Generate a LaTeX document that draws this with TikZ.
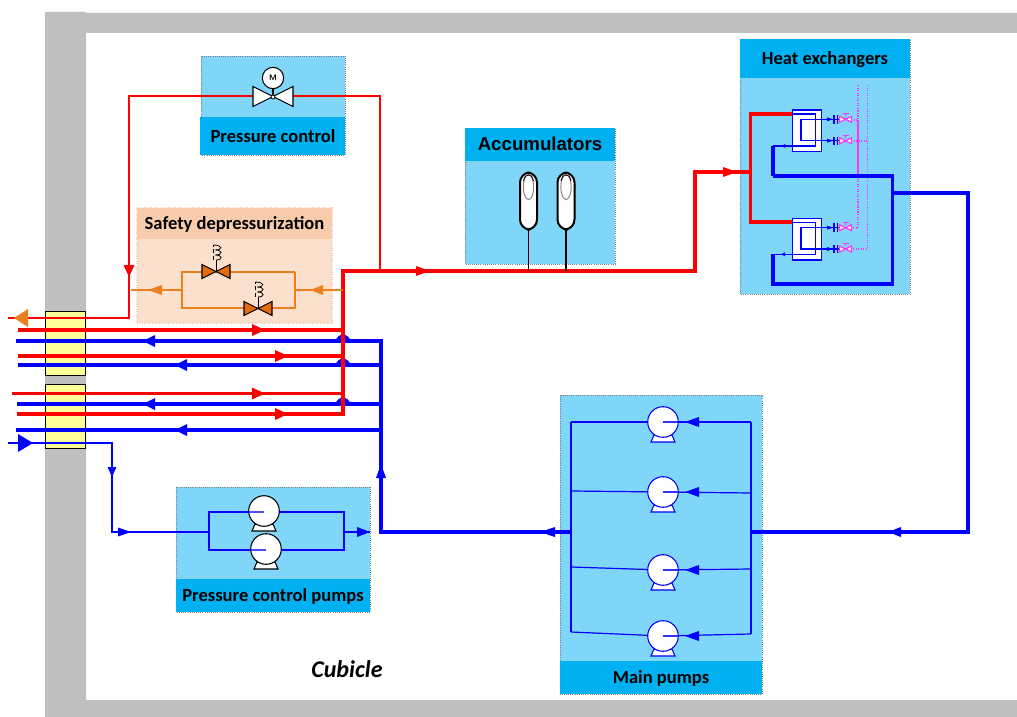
\documentclass[tikz,border=0pt]{standalone}
\usepackage{fontspec}
\setmainfont{Carlito}
\newfontfamily\arialbf{Liberation Sans}[BoldFont=Liberation Sans Bold]
\definecolor{wallc}{HTML}{BFBFBF}
\definecolor{bodyc}{HTML}{7FD6F9}
\definecolor{headc}{HTML}{00B0F0}
\definecolor{sbody}{HTML}{FBE1CD}
\definecolor{shead}{HTML}{F8CBAD}
\definecolor{orng}{HTML}{EE7F1E}
\definecolor{vorng}{HTML}{E36C0A}
\definecolor{yell}{HTML}{FFFF99}
\definecolor{magn}{HTML}{FF33FF}
\definecolor{blu}{HTML}{0000FF}
\definecolor{rd}{HTML}{FF0000}
\newcommand{\tipw}[6][blu]{\fill[#1,shift={(#2,#3)},rotate=#4] (0,0) -- (-#5,-#6) -- (-#5,#6) -- cycle;}
\tikzset{
  x=0.75pt,y=-0.75pt,
  bodybox/.style={fill=bodyc,draw=gray,densely dotted,line width=.6pt},
  headbox/.style={fill=headc,draw=none},
  lab/.style={font=\fontsize{13.9pt}{15pt}\selectfont\bfseries,text=black,inner sep=0pt},
  redthick/.style={draw=rd,line width=2.6pt},
  redthin/.style={draw=rd,line width=1pt},
  bluthick/.style={draw=blu,line width=2.6pt},
  bluthin/.style={draw=blu,line width=.9pt},
  hxl/.style={draw=blu,line width=.9pt},
  orl/.style={draw=orng,line width=1pt},
  magdot/.style={draw=magn,line width=.9pt,densely dotted},
  pics/bowtie/.style n args={4}{code={
    \filldraw[fill=#3,draw=#4,line width=.8pt] (0,0) -- (-#1,-#2) -- (-#1,#2) -- cycle;
    \filldraw[fill=#3,draw=#4,line width=.8pt] (0,0) -- (#1,-#2) -- (#1,#2) -- cycle;
  }},
  pics/spring/.style={code={
    \draw[black,line width=.7pt] (0,0) -- (0,-11);
    \draw[black,line width=.5pt,densely dashed] (-3,-11) -- (-3,-26);
    \draw[black,line width=.6pt] (-3,-26) .. controls (7,-26) and (7,-21) .. (-1,-21)
       .. controls (7,-21) and (7,-16) .. (-1,-16) .. controls (7,-16) and (7,-11) .. (0,-11);
  }},
  pics/pump/.style={code={
    \filldraw[fill=white,draw=#1,line width=.8pt] (-9,13) -- (-12,20) -- (12,20) -- (9,13) -- cycle;
    \filldraw[fill=white,draw=#1,line width=.8pt] (0,0) circle (15.3);
  }},
  pics/accu/.style={code={
    \filldraw[fill=white,draw=black,line width=1.5pt,rounded corners=7.5pt] (-8.5,-28.5) rectangle (8.5,28.5);
    \draw[gray,line width=.7pt] (0,-14) ellipse (5.2 and 12.5);
    \draw[black,line width=.6pt] (-5,-20) .. controls (-4,-25) and (-2,-26) .. (0,-26) .. controls (2,-26) and (4,-25) .. (5,-20);
  }},
  pics/hxvalve/.style={code={
    \tipw[blu]{-6.5}{0}{0}{6}{2}
    \fill[blu] (-6.2,-4.2) rectangle (-4.4,4.2);
    \fill[blu] (-3,-4.2) rectangle (-1.2,4.2);
    \draw[draw=magn,line width=.9pt] (6,-3) -- (6,-5.5) (3,-5.5) -- (9,-5.5);
    \filldraw[fill=white,draw=magn,line width=.9pt] (6,0) -- (0,-3) -- (0,3) -- cycle;
    \filldraw[fill=white,draw=magn,line width=.9pt] (6,0) -- (12,-3) -- (12,3) -- cycle;
  }},
}
\begin{document}
\begin{tikzpicture}
\useasboundingbox (0,0) rectangle (1017,717);
\fill[white] (0,0) rectangle (1017,717);
% wall
\fill[wallc] (45,12) -- (86,12) -- (86,13) -- (1017,13) -- (1017,33) -- (86,33) -- (86,700) -- (1017,700) -- (1017,717) -- (45,717) -- cycle;
% panels
\filldraw[bodybox] (201,56) rectangle (345,155);
\fill[headbox] (200,117) rectangle (345,155);
\node[lab] (pctxt) at (273,136.5) {Pressure control};
\fill[sbody] (137,208) rectangle (332,323);
\draw[draw=shead,densely dotted,line width=.8pt] (137,208) rectangle (332,323);
\fill[shead] (137,208) rectangle (332,239);
\node[lab] (sdtxt) at (234.5,224) {Safety depressurization};
\filldraw[bodybox] (465,128) rectangle (615,264);
\fill[headbox] (465,128) rectangle (615,161);
\node[lab,font=\arialbf\fontsize{14pt}{16pt}\selectfont\bfseries] (actxt) at (540,144) {Accumulators};
\filldraw[bodybox] (740,39) rectangle (910,294);
\fill[headbox] (740,39) rectangle (910,78);
\node[lab] (hetxt) at (825,59.5) {Heat exchangers};
\filldraw[bodybox] (176,487) rectangle (370,612);
\fill[headbox] (176,579) rectangle (370,612);
\node[lab] (pptxt) at (273,596.5) {Pressure control pumps};
\filldraw[bodybox] (560,395) rectangle (762,694);
\fill[headbox] (560,661) rectangle (762,694);
\node[lab] (mptxt) at (661,678) {Main pumps};
\node[font=\fontsize{18pt}{20pt}\selectfont\bfseries\itshape,inner sep=0pt] (cub) at (347,669.5) {Cubicle};
% penetrations
\node[draw=black,fill=yell,line width=.8pt,minimum width=30.5pt,minimum height=48.5pt,inner sep=0pt] (pen1) at (65.5,343.5) {};
\node[draw=black,fill=yell,line width=.8pt,minimum width=30.5pt,minimum height=48.5pt,inner sep=0pt] (pen2) at (65.5,416.5) {};
% coordinates
\coordinate (rA) at (343,271);
\coordinate (rB) at (695,271);
\coordinate (rC) at (695,172);
\coordinate (rD) at (750.5,172);
\coordinate (bV) at (381,341);
\coordinate (bM) at (381,532);
% blue manifold
\foreach \xs/\yy in {16/341,18/365,17/404,16/430}{
  \coordinate (bs) at (\xs,\yy);
  \draw[bluthick] (bs) -- (bs -| bV);
}
\foreach \yy in {341,365,404}{
  \fill[blu] (335,\yy+1.5) .. controls (337,\yy-9) and (349,\yy-9) .. (351,\yy+1.5) -- cycle;
}
\draw[bluthick,line cap=rect] (bV) -- (bM);
\tipw{143}{341}{180}{12}{6}
\tipw{175}{365}{180}{12}{6}
\tipw{143}{404}{180}{12}{6}
\tipw{175}{430}{180}{12}{6}
\tipw{381}{464}{90}{14}{5}
% red manifold
\foreach \xs/\yy in {18/330,18/356,12/393.5,17/414}{
  \coordinate (rs) at (\xs,\yy);
  \draw[redthick] (rs) -- (rs -| rA);
}
\draw[redthick,line cap=rect] (rA) -- (343,414);
\tipw[rd]{265}{330}{0}{13}{6}
\tipw[rd]{288}{356}{0}{13}{6}
\tipw[rd]{265}{393.5}{0}{13}{6}
\tipw[rd]{288}{414}{0}{13}{6}
\draw[redthick,line join=miter] (rA) -- (rB) -- (rC) -- (rD);
\tipw[rd]{430}{271}{0}{14}{5}
\tipw[rd]{737}{172}{0}{14}{5}
% pressure control line
\coordinate (pvL) at (129,96);
\coordinate (pvR) at (380,96);
\coordinate (pout) at (8,318);
\draw[redthin] (pout) -- (129,318) -- (pvL) -- (pvR) -- (380,271);
\tipw[rd]{129}{277}{-90}{12}{5.5}
\pic at (273,96.5) {bowtie={20}{10}{white}{black}};
\node[draw=black,fill=white,circle,minimum size=16pt,inner sep=0pt,line width=.8pt,font=\fontsize{6pt}{7pt}\selectfont\bfseries\sffamily] (motor) at (273,78) {M};
\draw[black,line width=.8pt] (motor) -- (273,96);
\filldraw[fill=white,draw=black,line width=.6pt] (273,97) circle (2);
\tipw[orng]{14}{318}{180}{14}{9}
% safety branch
\coordinate (sR) at (343,290);
\coordinate (sL) at (131,290);
\draw[orl] (sR) -- (295,290) (295,272) -- (295,308) -- (182,308) -- (182,272) -- (295,272) (182,290) -- (sL);
\tipw[orng]{310}{290}{180}{13}{5}
\tipw[orng]{148}{290}{180}{14}{5}
\pic at (216,271) {spring};
\pic at (258,308) {spring};
\pic at (216,271.5) {bowtie={14}{7}{vorng}{black}};
\pic at (258,308.5) {bowtie={14}{7}{vorng}{black}};
% accumulators
\coordinate (a1) at (528.5,271);
\coordinate (a2) at (566,271);
\draw[black,line width=1pt] (a1) -- (528.5,230);
\draw[black,line width=1pt] (a2) -- (566,230);
\pic at (528.5,201) {accu};
\pic at (566,201) {accu};
% heat exchangers: red
\coordinate (hTop) at (792,114);
\coordinate (hBot) at (792,222);
\draw[redthick,line join=miter] (hTop) -- (750.5,114) -- (750.5,222) -- (hBot);
% HX blue thick
\coordinate (bA) at (773,146);
\coordinate (bB) at (773,176);
\coordinate (bC) at (892.5,176);
\coordinate (bD) at (892.5,284);
\coordinate (bE) at (773,284);
\coordinate (bF) at (773,254);
\coordinate (bO) at (892.5,193);
\coordinate (bP) at (968,193);
\coordinate (bQ) at (968,532);
\coordinate (bR) at (751,532);
\draw[bluthick,line join=miter] (bA) -- (bB);
% magenta
\draw[magdot] (858,85) -- (858,120);
\draw[draw=magn,line width=.9pt] (858,120) -- (858,176);
\draw[magdot] (858,176) -- (858,228) -- (851,228);
\draw[magdot] (867.5,85) -- (867.5,249) -- (851,249);
\draw[magdot] (851,120) -- (858,120);
\draw[magdot] (851,141) -- (867.5,141);
\draw[bluthick,line join=miter] (bB) -- (bC) -- (bD) -- (bE) -- (bF);
\draw[bluthick,line join=miter] (bO) -- (bP) -- (bQ) -- (bR);
\tipw{888}{532}{180}{13}{5}
% exchangers
\foreach \yo in {0,108.3}{
  \begin{scope}[yshift=-0.75pt*\yo]
  \filldraw[fill=white,draw=blu,line width=.9pt] (792.7,110) rectangle (821.3,151.7);
  \draw[hxl] (792.7,114) -- (815.3,114) -- (815.3,146) -- (773,146);
  \draw[hxl] (839,119.3) -- (801,119.3) -- (801,140.7) -- (839,140.7);
  \tipw{781}{146}{180}{4}{2}
  \pic at (839.5,119.3) {hxvalve};
  \pic at (839.5,140.7) {hxvalve};
  \end{scope}
}
% low pressure entry
\coordinate (lpS) at (8,443);
\coordinate (lpT) at (112,443);
\coordinate (lpU) at (112,532);
\coordinate (ppL) at (209,532);
\coordinate (ppR) at (344,532);
\draw[bluthin] (lpS) -- (lpT) -- (lpU) -- (ppL);
\tipw{33}{443}{0}{15}{9}
\tipw{112}{477}{-90}{10}{4.5}
\tipw{131}{532}{0}{13}{4.5}
% pressure control pumps
\draw[bluthin] (ppL) |- (264,512);
\draw[bluthin] (ppL) |- (266,550);
\draw[bluthin] (264,512) -| (ppR);
\draw[bluthin] (266,550) -| (ppR);
\draw[bluthin] (ppR) -- (370,532);
\pic at (264,511) {pump=black};
\pic at (266,549) {pump=black};
\draw[draw=blu,line width=.9pt,opacity=.7] (248.7,512) -- (264,512);
\draw[draw=blu,line width=.9pt,opacity=.7] (250.7,550) -- (266,550);
\tipw{370}{532}{0}{13}{5}
\draw[bluthick] (bM) -- (571,532);
\tipw{540}{532}{180}{15}{5}
% main pumps
\coordinate (mL) at (571,422);
\coordinate (mR) at (751,422);
\draw[bluthin] (mL) -- (571,632) (mR) -- (751,634);
\foreach \yl/\yr/\yp in {422/422/422,491/493/492,567/569/570,632/634/636}{
  \draw[bluthin] (571,\yl) -- (663,\yp);
  \draw[bluthin] (751,\yr) -- (663,\yp);
  \pic at (663,\yp) {pump=blu};
  \draw[draw=blu,line width=.9pt,opacity=.8] (663,\yp) -- (678,\yp);
  \tipw{685}{\yp}{180}{14}{5}
}
\draw[bluthick] (bR) -- (764,532);
\end{tikzpicture}
\end{document}
